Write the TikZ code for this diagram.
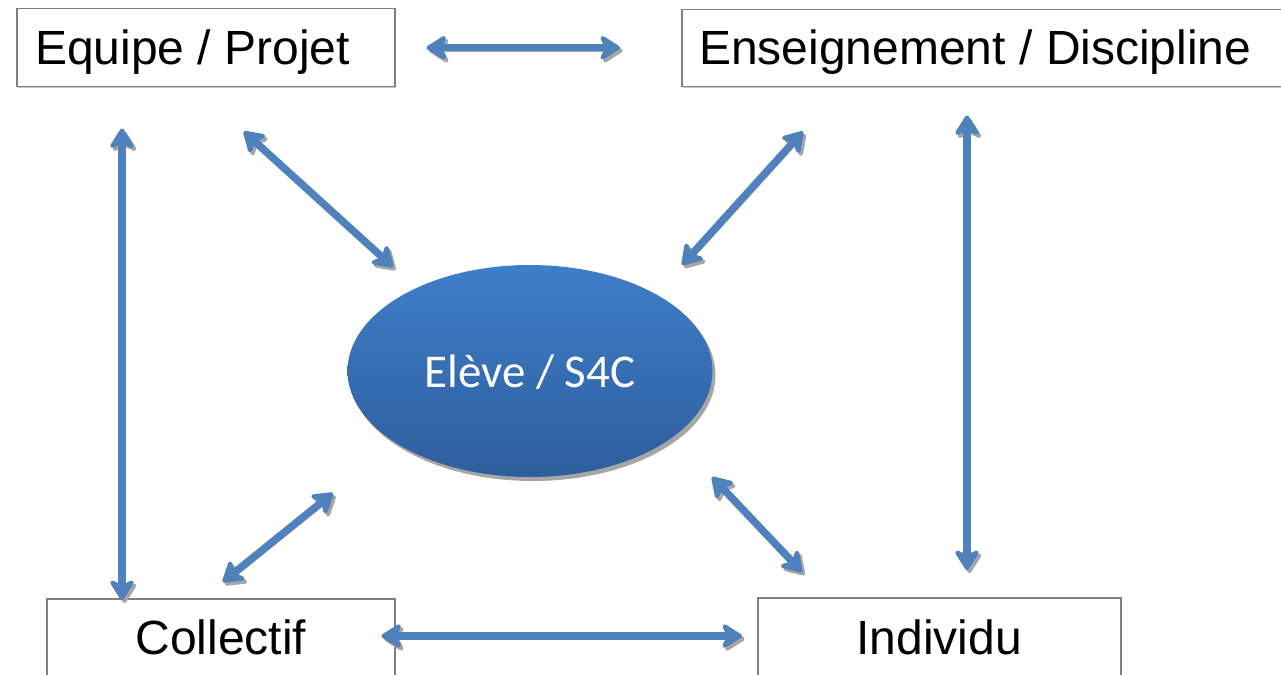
\documentclass[tikz,border=0pt]{standalone}
\usepackage{fontspec}
\setmainfont{Liberation Sans}
\newfontfamily\calib{Carlito}
\usetikzlibrary{arrows.meta,shapes.geometric,shadows,calc}
\definecolor{arrowblue}{HTML}{4F81BD}
\definecolor{shadowgray}{HTML}{A6A6A6}
\definecolor{boxgray}{HTML}{7F7F7F}
\definecolor{elltop}{HTML}{3E7EC9}
\definecolor{ellbot}{HTML}{2E5E9C}
\tikzset{
  tip/.tip={Stealth[length=24pt,width=30pt,inset=7pt,round]},
  conn/.style={line width=7.5pt, draw=arrowblue, tip-tip,
    preaction={draw=shadowgray, transform canvas={shift={(2.5pt,-3pt)}}}},
  box/.style={draw=boxgray, line width=1.5pt, fill=white, rectangle, inner sep=0pt,
    anchor=north west, drop shadow={shadow xshift=1.5pt, shadow yshift=-1.5pt, fill=gray!45, opacity=1}},
  lbl/.style={inner sep=0pt, font=\fontsize{48}{57}\selectfont},
  elltxt/.style={inner sep=0pt, text=white, font=\calib\fontsize{47}{56}\selectfont}
}
\begin{document}
\begin{tikzpicture}[x=1pt,y=-1pt]
\useasboundingbox (0,0) rectangle (1281,674);
\clip (0,0) rectangle (1281,674);
\fill[white] (0,0) rectangle (1281,674);
% boxes
\node[box, minimum width=378, minimum height=78] (ep) at (16,8) {};
\node[box, minimum width=640, minimum height=77] (ed) at (681,9) {};
\node[box, minimum width=348, minimum height=140] (co) at (46,598) {};
\node[box, minimum width=363, minimum height=140] (in) at (757,597) {};
% labels
\node[lbl, anchor=base west] (ept) at ($(ep.north west)+(19,57)$) {Equipe / Projet};
\node[lbl, anchor=base west] (edt) at ($(ed.north west)+(18,56)$) {Enseignement / Discipline};
\node[lbl, anchor=base] (cot) at ($(co.north)+(0,56)$) {Collectif};
\node[lbl, anchor=base] (int) at ($(in.north)+(0,57)$) {Individu};
% ellipse
\node[ellipse, minimum width=365, minimum height=212, inner sep=0pt,
      top color=elltop, bottom color=ellbot, draw=none,
      drop shadow={shadow xshift=3pt, shadow yshift=-4pt, fill=gray!70, opacity=1}] (el) at (530,371) {};
\node[elltxt, anchor=base] (elt) at ($(el.center)+(0,16)$) {Elève / S4C};
% connectors
\draw[conn] ($(ep.east)+(31,0)$) -- ($(ed.west)+(-61,-0.5)$);
\draw[conn] ($(ep.south west)+(106,41)$) -- ($(co.north west)+(76,2)$);
\draw[conn] ($(ed.south west)+(286,28)$) -- ($(in.north west)+(210,-27)$);
\draw[conn] ($(ep.south)+(38,44)$) -- ($(el.center)+(-137,-104)$);
\draw[conn] ($(ed.south west)+(122,44)$) -- ($(el.center)+(152,-106)$);
\draw[conn] ($(el.center)+(-197,122)$) -- ($(co.north)+(2,-16)$);
\draw[conn] ($(el.center)+(182,106)$) -- ($(in.north west)+(45,-25)$);
\draw[conn] ($(co.north east)+(-14,38)$) -- ($(in.north west)+(-15,39)$);
\end{tikzpicture}
\end{document}
